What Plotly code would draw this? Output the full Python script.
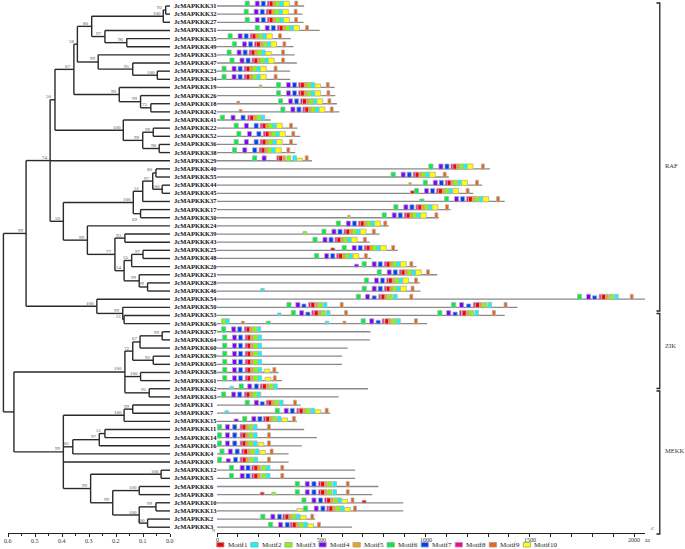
import plotly.graph_objects as go

W, H = 685, 549

# ---------------- data ----------------
gene_ids = ["31","32","27","51","35","49","33","47","23","34","19","26","18","42","41","22","52","36","38","29",
            "40","55","44","45","37","17","30","24","39","43","25","48","20","21","28","46","54","50","53","56",
            "57","64","60","59","65","58","61","62","63",
            "1","7","15","11","14","16","4","9","12","5","6","8","10","13","2","3"]
genes = ["JcMAPKKK" + g for g in gene_ids]

protein_length = [418,410,415,492,354,367,372,383,351,351,564,567,575,587,258,386,399,383,375,455,
                  1309,1112,1272,1229,1380,1120,1064,824,780,732,867,740,957,1056,973,976,2062,1441,1380,1008,
                  736,733,627,600,600,295,311,724,583,
                  401,543,383,418,479,407,343,343,663,663,774,745,893,893,471,648]

# motif:start (aa); suffix w = weak (short box), s = smaller box
motif_sites = [
 "6:135 4:183 7:212 8:241 1:250 5:269 3:281 2:301 10:319 9:373",
 "6:130 4:178 7:207 8:236 1:245 5:264 3:276 2:296 10:314 9:370",
 "6:135 4:183 7:212 8:241 1:250 5:269 3:281 2:301 10:319 9:372",
 "6:183 4:231 7:260 8:289 1:298 5:317 3:329 2:349 10:367 9:425",
 "6:53 4:101 7:130 8:159 1:168 5:187 3:199 2:219 10:237 9:295",
 "6:74 4:122 7:151 8:180 1:189 5:208 3:220 2:240 10:258 9:316",
 "6:48 4:96 7:125 8:154 1:163 5:182 3:194 2:214 10:232s 9:310",
 "6:62 4:110 7:139 8:168 1:177 5:196 3:208 2:228 10:246 9:310",
 "6:24 4:72 7:101 8:130 1:139 5:158 3:170 2:190 10:208 9:274",
 "6:24 4:72 7:101 8:130 1:139 5:158 3:170 2:190 10:208 9:274",
 "5:203w 6:285 4:333 7:362 8:391 1:400 5:419 3:431 2:451 10:469s 9:524",
 "6:285 4:333 7:362 8:391 1:400 5:419 3:431 2:451 10:469 9:527",
 "9:95w 6:295 4:343 7:372 8:401 1:410 5:429 3:441 2:461 10:479 9:532",
 "9:106w 6:306 4:354 7:383 8:412 1:421 5:440 3:452 2:472 10:490 9:543",
 "6:16 4:67 7:115 8:148 1:157 5:176 3:190 2:212",
 "6:82 4:131 7:178 8:207 1:216 5:235 3:247 2:267 10:285 9:348",
 "6:95 4:146 7:191 8:222 1:231 5:250 3:262 2:282 10:300 9:359",
 "6:82 4:131 7:178 8:207 1:216 5:235 3:247 2:267 10:285 9:348",
 "6:74 4:123 7:171 8:202 1:211 5:230 3:242 2:262 10:280 9:335",
 "6:171 4:216 8:287 1:295 5:316 3:335 2:364 10:383w 9:423",
 "6:1016 4:1064 7:1093 8:1122 1:1131 5:1150 3:1162 2:1182 10:1200 9:1268",
 "6:835 4:883 7:912 8:941 1:950 5:969 3:981 2:1001 10:1019 9:1085",
 "5:920w 6:989 4:1037 7:1066 8:1095 1:1104 5:1123 3:1135 2:1155 10:1173 9:1240",
 "1:928w 6:947 4:995 7:1024 8:1053 1:1062 5:1081 3:1093 2:1113 10:1131 9:1195",
 "6:973w 6:1091 4:1139 7:1168 8:1197 1:1206 5:1225 3:1237 2:1257 10:1275 9:1341",
 "6:848 4:896 7:925 8:954 1:963 5:982 3:994 2:1014 10:1032 9:1096",
 "5:627w 6:792 4:840 7:869 8:898 1:907 5:926 3:938 2:958 10:976 9:1045",
 "6:572 4:620 7:649 8:678 1:687 5:706 3:718 2:738 10:756 9:800",
 "3:412w 6:503 4:551 7:580 8:609 1:618 5:637 3:649 2:669 10:687 9:745",
 "6:460 4:508 7:537 8:566 1:575 5:594 3:606 2:626 10:644 9:702",
 "1:546w 6:600 4:648 7:677 8:706 1:715 5:734 3:746 2:766 10:784 9:838",
 "6:468 4:516 7:545 8:574 1:583 5:602 3:614 2:634 10:652 9:707",
 "4:659w 6:696 4:744 7:773 8:802 1:811 5:830 3:842 2:862 10:880 9:925",
 "6:768 4:816 7:845 8:874 1:883 5:902 3:914 2:934 10:952 9:1005",
 "6:707 4:755 7:784 8:813 1:822 5:841 3:853 2:873 10:891 9:947",
 "2:210w 6:696 4:744 7:773 8:802 1:811 5:830 3:842 2:862 10:880 9:931",
 "6:668 4:712 7:744s 8:776 1:787 5:805 3:822 2:847 9:925 6:1729 4:1772 7:1801s 8:1833 1:1845 5:1865 3:1882 2:1907 9:1982",
 "6:335 4:378 7:407s 8:439 1:450 5:471 3:486 2:510 9:591 6:1125 4:1163 7:1197s 8:1229 1:1240 5:1260 3:1276 2:1300 9:1377",
 "2:290w 6:356 4:396 7:426s 8:455 1:466 5:487 3:500 2:525 9:612 6:1059 4:1101 7:1132s 8:1163 1:1176 5:1197 3:1212 2:1237 9:1321",
 "3:22 2:42 9:117w 6:236w 2:519w 9:604w 6:691 4:732 7:763s 8:792 1:805 5:824 3:840 2:862 9:947",
 "6:22 4:70 7:99 8:131 1:139 5:158 3:172 2:193",
 "6:27 4:74 7:103 8:135 1:143 5:162 3:176 2:197",
 "6:27 4:74 7:103 8:135 1:143 5:162 3:176 2:197",
 "6:27 4:74 7:103 8:135 1:143 5:162 3:176 2:197",
 "6:27 4:74 7:103 8:135 1:143 5:162 3:176 2:197",
 "6:27 4:74 7:103 8:135 1:143 5:162 3:176 2:197 10:226s 9:268",
 "6:27 4:74 7:103 8:135 1:143 5:162 3:176 2:197 10:231s 9:270",
 "2:62w 6:106 4:147 7:179 8:207 1:218 5:237 3:251 2:272",
 "6:22 4:70 7:99 8:131 1:139 5:158 3:172 2:193",
 "6:135 4:179 7:207s 8:236 1:244 5:263 3:277 2:300 9:367",
 "2:38w 6:279 4:322 7:351 8:383 1:394 5:413 3:427 2:450 10:470s 9:519",
 "4:82w 6:123 4:167 7:196 8:223 1:234 5:253 3:267 2:290 10:310s 9:362",
 "6:2 4:40 7:75 8:111 1:120 5:139 3:153 2:175 9:242",
 "6:2 4:40 7:75 8:111 1:120 5:139 3:153 2:175 9:242",
 "6:2 4:40 7:75 8:111 1:120 5:139 3:153 2:175 10:197s 9:242",
 "6:14 4:54 7:87 8:119 1:128 5:147 3:162 2:184 10:205s 9:255",
 "6:2 4:44s 7:79 8:111 1:121 5:140 3:155 2:177 9:242",
 "6:59 4:111 7:139 8:167 1:177 5:196 3:214 2:237 9:306",
 "6:59 4:111 7:139 8:167 1:177 5:196 3:214 2:237 9:306",
 "6:375 4:423 7:455 8:487 1:497 5:516 3:532 2:556 9:620",
 "1:207w 3:263w 6:375 4:423 7:455 8:487 1:497 5:516 3:532 2:556 9:620",
 "6:407 4:455 7:487 8:516 1:526 5:545 3:560 2:580 10:598s 9:643 1:696w",
 "10:383w 6:415 4:466 7:498 8:527 1:537 5:556 3:571 2:592 10:612s 9:655",
 "6:210 4:258 7:290 8:316 1:326 5:345 3:360 2:381 10:400s 9:450",
 "6:247 4:295 7:327 8:351 1:361 5:380 3:395 2:416 10:435s 9:482",
]

motif_names = ["Motif1","Motif2","Motif3","Motif4","Motif5","Motif6","Motif7","Motif8","Motif9","Motif10"]
motif_colors = ["#FF0000","#00FFFF","#80FF00","#8000FF","#F0A800","#00F040","#0040FF","#FF00A0","#F06010","#FFFF00"]
motif_width = [19,17,19,20,12,20,20,9,14,28]

# tree: (node, children, height, bootstrap)
tree_nodes = [
 ("a1", ["31","32"], 0.016, "92"), ("a2", ["a1","27"], 0.025, "100"),
 ("a3", ["35","49"], 0.160, "96"), ("a4", ["51","a3"], 0.241, "97"),
 ("a5", ["a2","a4"], 0.290, "80"), ("a6", ["23","34"], 0.047, "100"),
 ("a7", ["47","a6"], 0.138, "95"), ("a8", ["33","a7"], 0.266, "99"),
 ("a9", ["a5","a8"], 0.343, "58"), ("a10", ["18","42"], 0.071, "75"),
 ("a11", ["26","a10"], 0.109, "99"), ("a12", ["19","a11"], 0.188, "99"),
 ("a13", ["a9","a12"], 0.356, "67"), ("a14", ["22","52"], 0.062, "99"),
 ("a15", ["36","38"], 0.040, "98"), ("a16", ["a14","a15"], 0.101, "99"),
 ("a17", ["41","a16"], 0.173, "100"), ("a18", ["a13","a17"], 0.426, "50"),
 ("b1", ["40","55"], 0.052, "80"), ("b2", ["44","45"], 0.029, "100"),
 ("b3", ["b1","b2"], 0.064, "97"), ("b4", ["b3","37"], 0.101, "51"),
 ("b5", ["17","30"], 0.109, "69"), ("b6", ["b4","b5"], 0.136, "100"),
 ("b7", ["39","43"], 0.167, "93"), ("b8", ["25","48"], 0.100, "97"),
 ("b9", ["b8","20"], 0.142, "55"), ("b10", ["28","46"], 0.083, "99"),
 ("b11", ["21","b10"], 0.114, "99"), ("b12", ["b9","b11"], 0.170, "54"),
 ("b13", ["b7","b12"], 0.204, "77"), ("b14", ["24","b13"], 0.306, "99"),
 ("b15", ["b6","b14"], 0.395, "50"), ("c1", ["a18","29","b15"], 0.444, "74"),
 ("c2", ["53","56"], 0.170, "51"), ("c3", ["50","c2"], 0.175, "99"),
 ("c4", ["54","c3"], 0.271, "100"), ("c5", ["c1","c4"], 0.533, "99"),
 ("z1", ["57","64"], 0.029, "99"), ("z2", ["z1","60"], 0.111, "67"),
 ("z3", ["59","65"], 0.062, "92"), ("z4", ["z2","z3"], 0.138, "72"),
 ("z5", ["58","61"], 0.109, "100"), ("z6", ["62","63"], 0.077, "95"),
 ("z7", ["z4","z5","z6"], 0.167, "100"),
 ("m1", ["1","7"], 0.138, "99"), ("m2", ["m1","15"], 0.170, "100"),
 ("m3", ["11","14"], 0.241, "51"), ("m4", ["m3","16"], 0.262, "97"),
 ("m5", ["m4","4"], 0.360, "85"), ("m6", ["12","5"], 0.033, "100"),
 ("m7", ["6","8"], 0.114, "100"), ("m8", ["10","13"], 0.052, "99"),
 ("m9", ["2","3"], 0.083, "100"), ("m10", ["m8","m9"], 0.114, "100"),
 ("m11", ["m7","m10"], 0.212, "99"), ("m12", ["m6","m11"], 0.294, "99"),
 ("m13", ["m2","m5","9","m12"], 0.395, "99"),
 ("r1", ["z7","m13"], 0.578, ""), ("root", ["c5","r1"], 0.617, ""),
]
label_below = {"b5"}

groups = ["RAF", "ZIK", "MEKK"]
tree_ticks = [0.0, 0.1, 0.2, 0.3, 0.4, 0.5, 0.6]
aa_ticks = [0, 500, 1000, 1500, 2000]

# ---------------- layout helpers ----------------
def px(x): return x / W
def py(y): return 1 - y / H

ROW0, DROW = 6.0, 8.144
Y_BOT = 533.0
y_range = [1 + (Y_BOT - ROW0) / DROW, 1 - ROW0 / DROW]
SERIF = "Liberation Serif"

fig = go.Figure()

# ---------------- tree ----------------
row_of = {g: i + 1 for i, g in enumerate(gene_ids)}
ypos = dict(row_of)
hgt = {g: 0.0 for g in gene_ids}
tx, ty = [], []
for name, ch, h, bs in tree_nodes:
    ys = [ypos[c] for c in ch]
    ypos[name] = (ys[0] + ys[-1]) / 2
    hgt[name] = h
    tx += [h, h, None]; ty += [ys[0], ys[-1], None]
    for c in ch:
        tx += [h, hgt[c], None]; ty += [ypos[c], ypos[c], None]

fig.add_trace(go.Scatter(x=tx, y=ty, mode="lines", xaxis="x", yaxis="y",
                         line=dict(color="#2a2a2a", width=1.4), hoverinfo="skip", showlegend=False))

annotations = []
for name, ch, h, bs in tree_nodes:
    if not bs:
        continue
    below = name in label_below
    annotations.append(dict(x=h, y=ypos[name], xref="x", yref="y", text=bs, showarrow=False,
                            xanchor="right", yanchor="top" if below else "bottom",
                            xshift=-0.5, yshift=-1 if below else -1.5,
                            font=dict(family=SERIF, size=5, color="#555555")))

for g, name in zip(gene_ids, genes):
    annotations.append(dict(x=0, y=row_of[g], xref="x", yref="y", text="<b>%s</b>" % name,
                            showarrow=False, xanchor="left", yanchor="middle", xshift=1.5, yshift=0.5,
                            font=dict(family=SERIF, size=6.5, color="#111111")))

# ---------------- proteins & motifs ----------------
lx, ly = [], []
for i, L in enumerate(protein_length):
    r = i + 1
    lx += [0, L, None]; ly += [r, r, None]
fig.add_trace(go.Scatter(x=lx, y=ly, mode="lines", xaxis="x2", yaxis="y",
                         line=dict(color="#8a8a8a", width=1.3), hoverinfo="skip", showlegend=False))

boxes = {m: ([], []) for m in range(1, 11)}
for i, s in enumerate(motif_sites):
    r = i + 1
    for tok in s.split():
        m, v = tok.split(":")
        m = int(m)
        hf = 0.6
        if v.endswith("w"):
            hf, v = 0.3, v[:-1]
        elif v.endswith("s"):
            hf, v = 0.42, v[:-1]
        x0 = float(v); x1 = x0 + motif_width[m - 1]
        y0 = r + 0.04; y1 = r - hf
        bx, by = boxes[m]
        bx += [x0, x1, x1, x0, x0, None]
        by += [y0, y0, y1, y1, y0, None]

for m in range(1, 11):
    bx, by = boxes[m]
    fig.add_trace(go.Scatter(x=bx, y=by, mode="lines", fill="toself", xaxis="x2", yaxis="y",
                             fillcolor=motif_colors[m - 1], line=dict(color="#b0b0b0", width=0.8),
                             hoverinfo="skip", showlegend=False, name=motif_names[m - 1]))

# dummy trace for scale-bar axis
fig.add_trace(go.Scatter(x=[0.3], y=[1], xaxis="x3", yaxis="y", mode="markers",
                         marker=dict(opacity=0), hoverinfo="skip", showlegend=False))

# ---------------- axis tick labels ----------------
tickfont = dict(family=SERIF, size=6, color="#333333")
for t in tree_ticks:
    annotations.append(dict(x=t, y=py(540.5), xref="x3", yref="paper", text="%.1f" % t, showarrow=False,
                            xanchor="center", yanchor="middle", font=tickfont))
for t in aa_ticks:
    annotations.append(dict(x=t, y=py(539.8), xref="x2", yref="paper", text=str(t), showarrow=False,
                            xanchor="center", yanchor="middle", font=tickfont))
annotations.append(dict(x=2000, y=py(539.8), xref="x2", yref="paper", text="aa", showarrow=False,
                        xanchor="left", yanchor="middle", xshift=8.5,
                        font=dict(family=SERIF, size=5.5, color="#333333")))

# ---------------- legend ----------------
shapes = []
for i, (nm, col) in enumerate(zip(motif_names, motif_colors)):
    x0 = 216.7 + i * 34.07
    shapes.append(dict(type="rect", xref="paper", yref="paper", x0=px(x0), x1=px(x0 + 7.3),
                       y0=py(547.0), y1=py(542.5), fillcolor=col, line=dict(color="#a0a0a0", width=0.8)))
    annotations.append(dict(x=px(x0 + 8.8), y=py(544.8), xref="paper", yref="paper", text=nm,
                            showarrow=False, xanchor="left", yanchor="middle",
                            font=dict(family=SERIF, size=7, color="#222222")))

# ---------------- group brackets ----------------
brackets = [(3, 311), (313.5, 388.5), (391, 534)]
label_y = [165, 345, 450]
for (y0, y1), gname, ly_ in zip(brackets, groups, label_y):
    shapes.append(dict(type="path", xref="paper", yref="paper",
                       path="M %f %f L %f %f L %f %f L %f %f" % (px(656.5), py(y0), px(659.8), py(y0),
                                                               px(659.8), py(y1), px(656.5), py(y1)),
                       line=dict(color="#222222", width=1.3)))
    annotations.append(dict(x=px(662.5), y=py(ly_), xref="paper", yref="paper", text=gname,
                            showarrow=False, xanchor="left", yanchor="middle",
                            font=dict(family=SERIF, size=6.5, color="#333333")))

annotations.append(dict(x=px(213.5), y=py(530.5), xref="paper", yref="paper", text="N", showarrow=False,
                        xanchor="center", yanchor="middle",
                        font=dict(family=SERIF, size=4.5, color="#555555")))
annotations.append(dict(x=px(652.5), y=py(528), xref="paper", yref="paper", text="C", showarrow=False,
                        xanchor="center", yanchor="middle",
                        font=dict(family=SERIF, size=5, color="#555555")))

axis_common = dict(showline=True, linecolor="#222222", linewidth=1, showgrid=False, zeroline=False,
                   showticklabels=False, ticks="outside", ticklen=2.5, tickcolor="#222222",
                   fixedrange=True)
fig.update_layout(
    width=W, height=H, autosize=False, margin=dict(l=0, r=0, t=0, b=0),
    paper_bgcolor="white", plot_bgcolor="rgba(0,0,0,0)", showlegend=False,
    xaxis=dict(domain=[0, px(172)], range=[170 / 270, -2 / 270], anchor="y",
               visible=False, fixedrange=True),
    xaxis2=dict(domain=[px(217), px(645)], range=[0, 428 / 0.2085], anchor="y",
                tickmode="array", tickvals=aa_ticks,
                minor=dict(dtick=100, tick0=0, ticks="outside", ticklen=2.5, tickcolor="#222222"),
                **axis_common),
    xaxis3=dict(domain=[px(8), px(170)], range=[0.6, 0.0], anchor="y",
                tickmode="array", tickvals=tree_ticks,
                minor=dict(dtick=0.05, tick0=0, ticks="outside", ticklen=1.5, tickcolor="#222222"),
                **axis_common),
    yaxis=dict(domain=[py(Y_BOT), 1], range=y_range, visible=False, fixedrange=True),
    shapes=shapes, annotations=annotations,
)

fig.write_html("out.html", config={"displayModeBar": False, "staticPlot": False},
               post_script="document.body.style.margin='0';"
                           "document.documentElement.style.overflow='hidden';")
